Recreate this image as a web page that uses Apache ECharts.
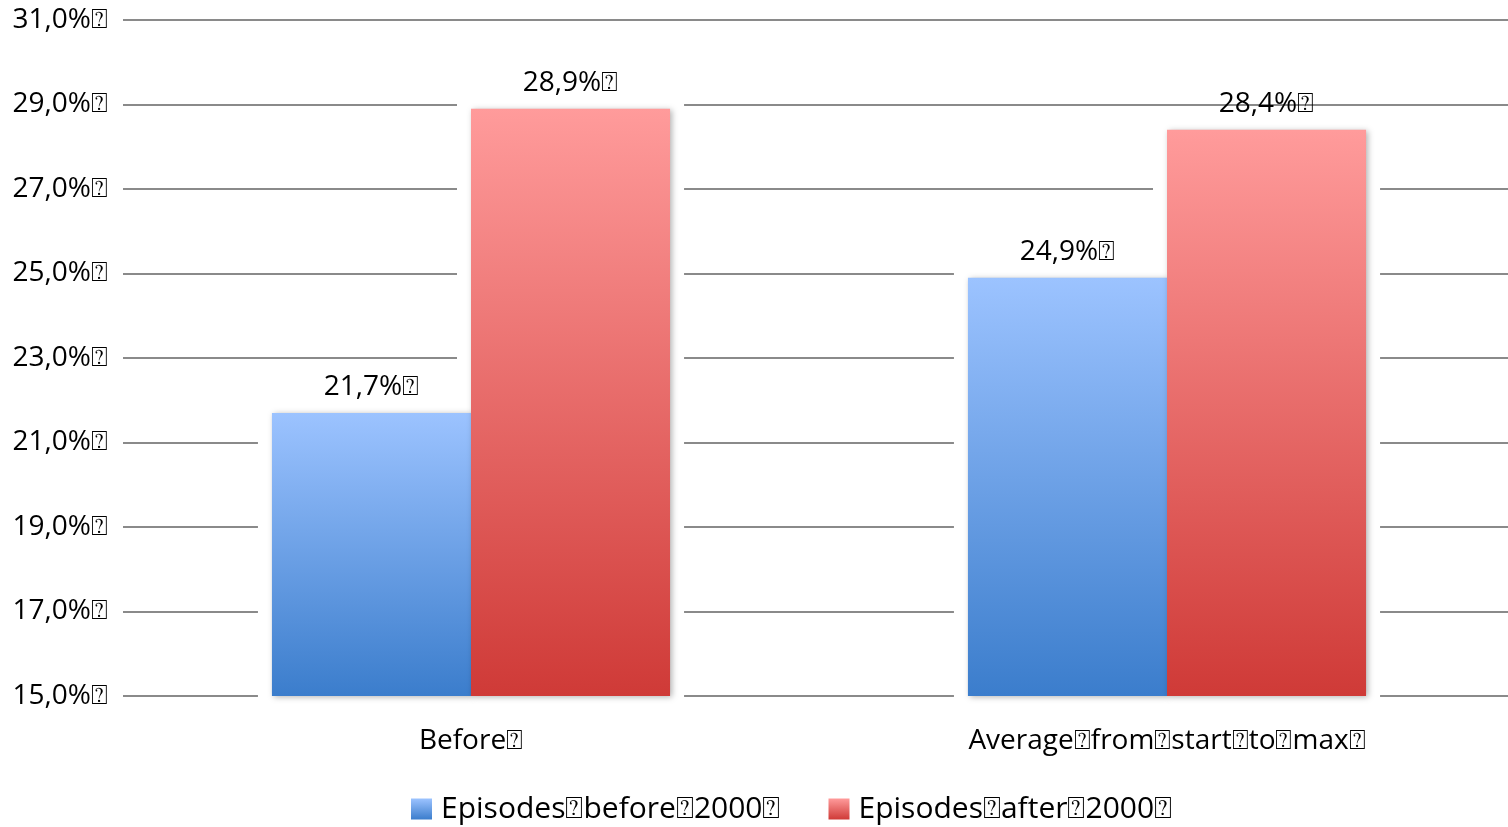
<!DOCTYPE html>
<html>
<head>
<meta charset="utf-8">
<script src="https://cdn.jsdelivr.net/npm/echarts@6/dist/echarts.min.js"></script>
<style>
  html, body { margin: 0; padding: 0; background: #fff; overflow: hidden; }
  #chart { width: 1516px; height: 827px; }
</style>
</head>
<body>
<div id="chart"></div>
<script>
// Share of episodes, two periods compared
const MARK = '\u2370';
const categories = ['Before' + MARK, 'Average' + MARK + 'from' + MARK + 'start' + MARK + 'to' + MARK + 'max' + MARK];
const seriesNames = ['Episodes' + MARK + 'before' + MARK + '2000' + MARK, 'Episodes' + MARK + 'after' + MARK + '2000' + MARK];
const before2000 = [21.7, 24.9];
const after2000 = [28.9, 28.4];
const yTicks = [15, 17, 19, 21, 23, 25, 27, 29, 31];

const FONT = '"Open Sans", sans-serif';
const BAR_RATIO = 0.286;
const fmt = v => v.toFixed(1).replace('.', ',') + '%' + MARK;

function grad(top, bottom) {
  return new echarts.graphic.LinearGradient(0, 0, 0, 1, [
    { offset: 0, color: top },
    { offset: 1, color: bottom }
  ]);
}
const blueFill = grad('#9cc3ff', '#3b7dcc');
const redFill = grad('#ff9b9b', '#cf3a37');

// white halo behind each bar so grid lines stop short of the bars
const haloData = [];
[before2000, after2000].forEach((vals, s) => {
  vals.forEach((v, i) => haloData.push([i, s, v]));
});

const chart = echarts.init(document.getElementById('chart'));
chart.setOption({
  animation: false,
  backgroundColor: '#fff',
  grid: { left: 123, right: 1, top: 20, bottom: 131 },
  legend: {
    bottom: -2,
    left: 406,
    itemWidth: 21,
    itemHeight: 21,
    itemGap: 48,
    icon: 'rect',
    textStyle: { fontFamily: FONT, fontSize: 30, color: '#000', padding: [0, 0, 0, 4] },
    data: seriesNames
  },
  xAxis: {
    type: 'category',
    data: categories,
    axisLine: { show: false },
    axisTick: { show: false },
    axisLabel: { fontFamily: FONT, fontSize: 28, color: '#000', margin: 31 }
  },
  yAxis: {
    type: 'value',
    min: yTicks[0],
    max: yTicks[yTicks.length - 1],
    interval: yTicks[1] - yTicks[0],
    axisLine: { show: false },
    axisTick: { show: false },
    axisLabel: { fontFamily: FONT, fontSize: 28, color: '#000', margin: 15, formatter: fmt },
    splitLine: { lineStyle: { color: '#8a8a8a', width: 2 } }
  },
  series: [
    {
      type: 'custom',
      z: 1,
      silent: true,
      data: haloData,
      renderItem: function (params, api) {
        const cat = api.value(0), s = api.value(1), v = api.value(2);
        const band = api.size([1, 0])[0];
        const bw = band * BAR_RATIO;
        const top = api.coord([cat, v]);
        const base = api.coord([cat, yTicks[0]]);
        const left = top[0] + (s === 0 ? -bw : 0);
        const pad = 14;
        return {
          type: 'rect',
          shape: { x: left - pad, y: top[1] - 8, width: bw + pad * 2, height: base[1] - top[1] + 12 },
          style: { fill: '#fff' }
        };
      }
    },
    {
      name: seriesNames[0],
      type: 'bar',
      z: 3,
      data: before2000,
      barWidth: (BAR_RATIO * 100) + '%',
      barGap: '0%',
      itemStyle: { color: blueFill, shadowBlur: 6, shadowColor: 'rgba(0,0,0,0.3)', shadowOffsetX: 2, shadowOffsetY: 1 },
      label: { show: true, position: 'top', distance: 12, fontFamily: FONT, fontSize: 28, color: '#000', formatter: p => fmt(p.value) }
    },
    {
      name: seriesNames[1],
      type: 'bar',
      z: 3,
      data: after2000,
      barWidth: (BAR_RATIO * 100) + '%',
      barGap: '0%',
      itemStyle: { color: redFill, shadowBlur: 6, shadowColor: 'rgba(0,0,0,0.3)', shadowOffsetX: 2, shadowOffsetY: 1 },
      label: { show: true, position: 'top', distance: 12, fontFamily: FONT, fontSize: 28, color: '#000', formatter: p => fmt(p.value) }
    }
  ]
});
</script>
</body>
</html>
